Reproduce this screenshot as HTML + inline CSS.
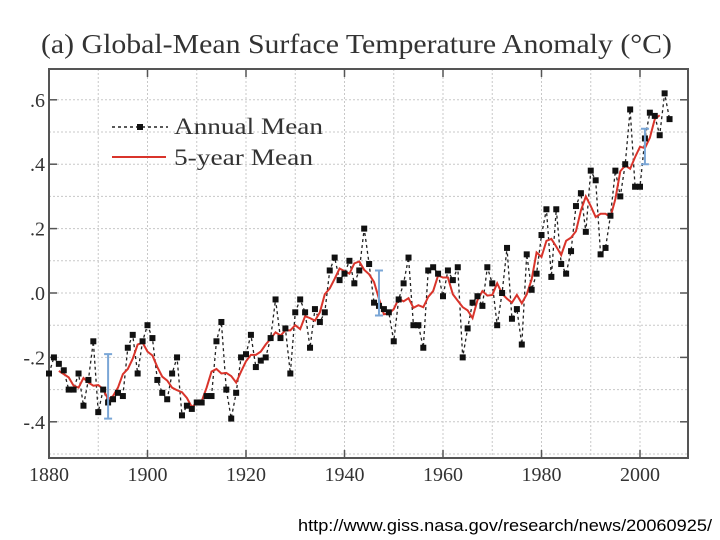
<!DOCTYPE html>
<html><head><meta charset="utf-8"><style>
html,body{margin:0;padding:0;background:#fff;width:720px;height:540px;overflow:hidden}
svg{display:block}
</style></head><body>
<svg id="chart" width="720" height="540" font-family="Liberation Serif, serif">
<text x="41" y="53" font-size="27" textLength="631" lengthAdjust="spacingAndGlyphs" fill="#333">(a)  Global-Mean Surface Temperature Anomaly (°C)</text>
<g id="grid"></g>
<g id="axes"></g>
<g id="series"></g>
<g>
<line x1="112" y1="127" x2="168" y2="127" stroke="#222" stroke-width="1.5" stroke-dasharray="3,3"/>
<rect x="137" y="124" width="6" height="6" fill="#111"/>
<text x="174" y="134" font-size="23" textLength="149" lengthAdjust="spacingAndGlyphs" fill="#333">Annual Mean</text>
<line x1="112" y1="157" x2="166" y2="157" stroke="#d9342b" stroke-width="2"/>
<text x="174" y="165" font-size="23" textLength="139" lengthAdjust="spacingAndGlyphs" fill="#333">5-year Mean</text>
</g>
<text x="298" y="531" font-size="17" textLength="414" lengthAdjust="spacingAndGlyphs" font-family="Liberation Sans, sans-serif" fill="#000">http://www.giss.nasa.gov/research/news/20060925/</text>
</svg>
<script>
const years=[];for(let y=1880;y<=2006;y++)years.push(y);
const annual=[-0.25,-0.20,-0.22,-0.24,-0.30,-0.30,-0.25,-0.35,-0.27,-0.15,-0.37,-0.30,-0.34,-0.33,-0.31,-0.32,-0.17,-0.13,-0.25,-0.15,-0.10,-0.14,-0.27,-0.31,-0.33,-0.25,-0.20,-0.38,-0.35,-0.36,-0.34,-0.34,-0.32,-0.32,-0.15,-0.09,-0.30,-0.39,-0.31,-0.20,-0.19,-0.13,-0.23,-0.21,-0.20,-0.14,-0.02,-0.14,-0.11,-0.25,-0.06,-0.02,-0.06,-0.17,-0.05,-0.09,-0.06,0.07,0.11,0.04,0.06,0.10,0.03,0.07,0.20,0.09,-0.03,-0.04,-0.05,-0.06,-0.15,-0.02,0.03,0.11,-0.10,-0.10,-0.17,0.07,0.08,0.06,-0.01,0.07,0.04,0.08,-0.20,-0.11,-0.03,-0.01,-0.04,0.08,0.03,-0.10,0.00,0.14,-0.08,-0.05,-0.16,0.12,0.01,0.06,0.18,0.26,0.05,0.26,0.09,0.06,0.13,0.27,0.31,0.19,0.38,0.35,0.12,0.14,0.24,0.38,0.30,0.40,0.57,0.33,0.33,0.48,0.56,0.55,0.49,0.62,0.54];
const errYears=[1892,1947,2001];
const errLow=[-0.39,-0.07,0.40];
const errHigh=[-0.19,0.07,0.51];
const yTicks=[-0.4,-0.2,0.0,0.2,0.4,0.6];
const yTickLabels=["-.4","-.2",".0",".2",".4",".6"];
const xTicks=[1880,1900,1920,1940,1960,1980,2000];

const L=49,R=688,T=69,B=458;
const X=y=>L+(y-1880)*4.925;
const Y=v=>293-v*322;
const NS="http://www.w3.org/2000/svg";
function mk(tag,attrs,parent){const e=document.createElementNS(NS,tag);for(const k in attrs)e.setAttribute(k,attrs[k]);document.getElementById(parent).appendChild(e);return e;}

for(let yr=1890;yr<2010;yr+=10){const e=mk('line',{x1:X(yr),x2:X(yr),y1:T,y2:B,stroke:'#c8c8c8','stroke-width':1,'stroke-dasharray':'2,2'},'grid');

}
for(let v=-0.5;v<=0.65;v+=0.1){const e=mk('line',{x1:L,x2:R,y1:Y(v),y2:Y(v),stroke:'#c8c8c8','stroke-width':1,'stroke-dasharray':'2,2'},'grid');

}

const fr=mk('rect',{x:L,y:T,width:R-L,height:B-T,fill:'none',stroke:'#555','stroke-width':2},'axes');


yTicks.forEach((v,i)=>{
 mk('line',{x1:L,x2:L+8,y1:Y(v),y2:Y(v),stroke:'#555','stroke-width':1.5},'axes');
 mk('line',{x1:R-8,x2:R,y1:Y(v),y2:Y(v),stroke:'#555','stroke-width':1.5},'axes');
 const t=mk('text',{x:L-4,y:Y(v)+7,'font-size':20,'text-anchor':'end',fill:'#333'},'axes');t.textContent=yTickLabels[i];
 
 
});
xTicks.forEach(yr=>{
 mk('line',{x1:X(yr),x2:X(yr),y1:B-8,y2:B,stroke:'#555','stroke-width':1.5},'axes');
 mk('line',{x1:X(yr),x2:X(yr),y1:T,y2:T+8,stroke:'#555','stroke-width':1.5},'axes');
 const t=mk('text',{x:X(yr),y:B+23,'font-size':20,'text-anchor':'middle',fill:'#333'},'axes');t.textContent=yr;
 
 
});

const ap=mk('polyline',{points:years.map((y,i)=>X(y)+','+Y(annual[i])).join(' '),fill:'none',stroke:'#222','stroke-width':1.3,'stroke-dasharray':'3,3'},'series');


const five=[];years.forEach((y,i)=>{if(i>=2&&i<=years.length-3){let s=0;for(let k=-2;k<=2;k++)s+=annual[i+k];five.push([y,s/5]);}});
const fp=mk('polyline',{points:five.map(p=>X(p[0])+','+Y(p[1])).join(' '),fill:'none',stroke:'#d9342b','stroke-width':2},'series');


years.forEach((y,i)=>{const r=mk('rect',{x:X(y)-3,y:Y(annual[i])-3,width:6,height:6,fill:'#111'},'series');

});
errYears.forEach((y,i)=>{
 const g=mk('path',{d:`M${X(y)-4},${Y(errHigh[i])}H${X(y)+4}M${X(y)},${Y(errHigh[i])}V${Y(errLow[i])}M${X(y)-4},${Y(errLow[i])}H${X(y)+4}`,stroke:'#7aa6d6','stroke-width':2,fill:'none'},'series');
 
 
});
</script>
</body></html>
